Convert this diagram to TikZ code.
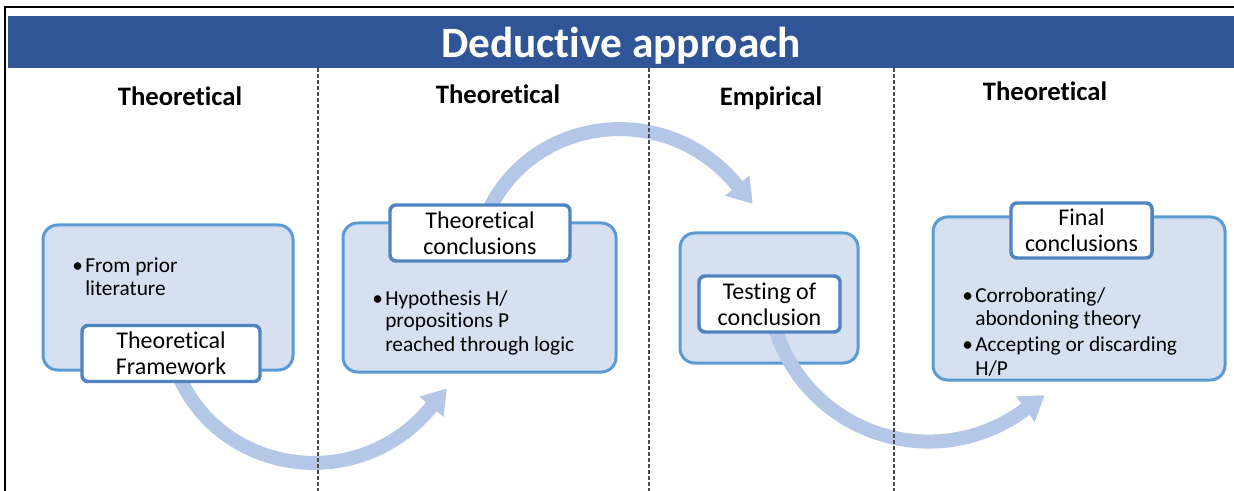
\documentclass[tikz,border=0pt]{standalone}
\usepackage{fontspec}
\setmainfont{Carlito}[Ligatures=NoCommon]
\usetikzlibrary{arrows.meta,positioning}
\definecolor{barblue}{RGB}{47,85,151}
\definecolor{boxfill}{RGB}{214,224,240}
\definecolor{boxline}{RGB}{91,155,213}
\definecolor{tagline}{RGB}{79,132,193}
\definecolor{flowblue}{RGB}{180,199,231}
\pgfdeclarelayer{back}
\pgfdeclarelayer{flow}
\pgfsetlayers{back,flow,main}
\newcommand{\bul}{\makebox[9.75pt][l]{\textbullet}}
\newcommand{\ind}{\hspace*{9.75pt}}
\tikzset{
	titlebar/.style={fill=barblue, text=white, font=\fontsize{32.5}{38}\selectfont\bfseries, minimum width=919.5pt, minimum height=39pt, text height=25pt, text depth=2pt, inner sep=0pt},
	colhead/.style={anchor=base, inner sep=0pt, font=\fontsize{20}{24}\selectfont\bfseries},
	bigbox/.style={draw=boxline, fill=boxfill, line width=2.25pt, rounded corners=11pt},
	tagbox/.style={draw=tagline, fill=white, line width=2.6pt, rounded corners=4.5pt, align=center, minimum height=42pt, inner sep=0pt, font=\fontsize{18}{19.5}\selectfont},
	bullets/.style={anchor=base west, align=left, inner sep=0pt, font=\fontsize{16}{17.25}\selectfont},
	curve/.style={draw=flowblue, line width=10.5pt, -{Triangle[length=18pt, width=22.5pt]}},
	divider/.style={dash pattern=on 3pt off 1.5pt, draw=black!70, line width=0.8pt}
}
\begin{document}
\begin{tikzpicture}[x=0.75pt, y=-0.75pt]
	\useasboundingbox (0,0) rectangle (1234,491);
	\draw[line width=1.1pt] (5,491) -- (5,7) -- (1234,7);
	\node[titlebar] (title) at (621,42) {Deductive approach};
	\node[colhead] (h1) at (180,106) {Theoretical};
	\node[colhead] (h2) at (498,104) {Theoretical};
	\node[colhead] (h3) at (771,106) {Empirical};
	\node[colhead] (h4) at (1045,101) {Theoretical};
	\begin{pgfonlayer}{back}
	\node[bigbox, minimum width=187.5pt, minimum height=108.75pt] (b1) at (168,297.5) {};
	\node[bigbox, minimum width=204.75pt, minimum height=111.75pt] (b2) at (479.5,297.5) {};
	\node[bigbox, minimum width=133.5pt, minimum height=97.5pt] (b3) at (769,298) {};
	\node[bigbox, minimum width=219pt, minimum height=122.25pt] (b4) at (1079,298.5) {};
	\end{pgfonlayer}
	\node[bullets] (t1) at (72,296) {\bul From prior\\\ind literature};
	\node[bullets] (t2) at (372,351) {\bul Hypothesis H/\\\ind propositions P\\\ind reached through logic};
	\node[bullets] (t4) at (962,375) {\bul Corroborating/\\\ind abondoning theory\\[3pt]\bul Accepting or discarding\\\ind H/P};
	\node[tagbox, minimum width=133.5pt] (l1) at (171,353.5) {Theoretical\\Framework};
	\node[tagbox, minimum width=135pt] (l2) at (480,233) {Theoretical\\conclusions};
	\node[tagbox, minimum width=105.75pt] (l3) at (769.5,304) {Testing of\\conclusion};
	\node[tagbox, minimum width=105.75pt, minimum height=41.25pt] (l4) at (1081.5,230.5) {Final\\conclusions};
	\coordinate (a1) at (446.9,388.4);
	\coordinate (a2) at (752.7,203.9);
	\coordinate (a3) at (1044.8,395.1);
	\begin{pgfonlayer}{flow}
	\draw[curve] (l1.center) .. controls (202,471) and (352,501) .. (430.2,408.3) -- (a1);
	\draw[curve] (l2.center) .. controls (513.8,118.9) and (659.8,93.2) .. (736,184) -- (a2);
	\draw[curve] (l3.center) .. controls (788.4,425.5) and (926.3,481.2) .. (1023.8,410.4) -- (a3);
	\foreach \x in {318,649,894}
		\draw[divider] (\x,68) -- (\x,491);
	\end{pgfonlayer}
\end{tikzpicture}
\end{document}
